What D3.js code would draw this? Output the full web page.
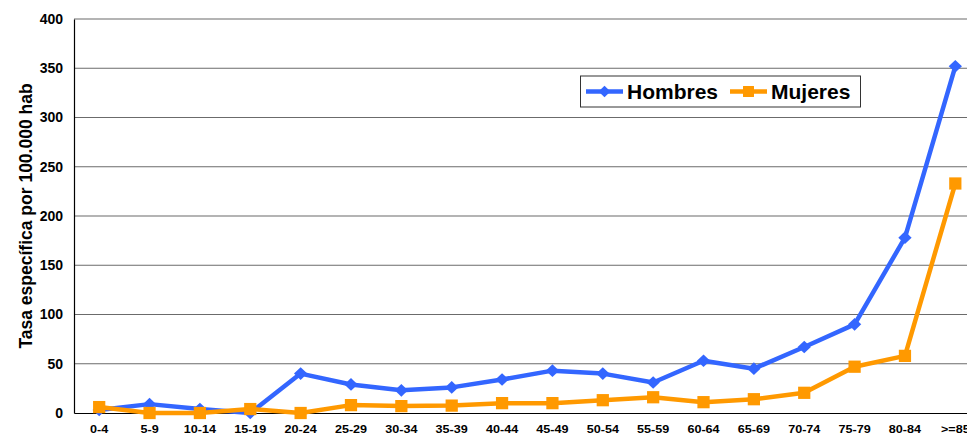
<!DOCTYPE html>
<html>
<head>
<meta charset="utf-8">
<script src="https://cdn.jsdelivr.net/npm/d3@7"></script>
<style>
  body { margin: 0; background: #fff; }
  svg { display: block; font-family: Arial, "Liberation Sans", sans-serif; }
</style>
</head>
<body>
<svg id="chart" width="967" height="438"></svg>
<script>
var ageGroups = ["0-4", "5-9", "10-14", "15-19", "20-24", "25-29", "30-34", "35-39", "40-44",
    "45-49", "50-54", "55-59", "60-64", "65-69", "70-74", "75-79", "80-84", ">=85"];
var hombres = [3, 9, 4, 0, 40, 29, 23, 26, 34, 43, 40, 31, 53, 45, 67, 90, 178, 352];
var mujeres = [6, 0, 0, 4, 0, 8, 7, 7.5, 10, 10, 13, 16, 11, 14, 20.5, 47, 58, 233];
var yTicks = [0, 50, 100, 150, 200, 250, 300, 350, 400];

var svg = d3.select("#chart");
var plotLeft = 74, plotTop = 19, plotBottom = 413, plotRight = 980.5;

var x = d3.scaleBand().domain(ageGroups).range([plotLeft, plotRight]);
var y = d3.scaleLinear().domain([0, 400]).range([plotBottom, plotTop]);

// grid lines
svg.append("g")
    .selectAll("line")
    .data(yTicks.slice(1))
    .enter().append("line")
    .attr("x1", plotLeft).attr("x2", plotRight)
    .attr("y1", function(d) { return y(d); })
    .attr("y2", function(d) { return y(d); })
    .attr("stroke", "#6b6b6b")
    .attr("stroke-width", 1.2);

// y axis
var yAxis = svg.append("g")
    .attr("transform", "translate(" + plotLeft + ",0)")
    .call(d3.axisLeft(y).tickValues(yTicks).tickSize(0).tickPadding(11));
yAxis.select(".domain").attr("stroke", "#000").attr("stroke-width", 1.2);
yAxis.selectAll("text").attr("font-size", 14).attr("font-weight", "bold").attr("fill", "#000");

// x axis (labels a bit wider than tall, like the original)
var xAxis = svg.append("g")
    .attr("transform", "translate(0," + plotBottom + ")")
    .call(d3.axisBottom(x).tickSize(0).tickPadding(13));
xAxis.select(".domain").attr("stroke", "#000").attr("stroke-width", 1.2);
xAxis.selectAll("text")
    .attr("font-size", 10.5)
    .attr("font-weight", "bold")
    .attr("fill", "#000")
    .attr("transform", "scale(1.2,1)");

svg.append("text")
    .attr("transform", "translate(26," + ((plotTop + plotBottom) / 2) + ") rotate(-90)")
    .attr("text-anchor", "middle")
    .attr("dy", "0.35em")
    .attr("font-size", 17.5)
    .attr("font-weight", "bold")
    .text("Tasa específica por 100.000 hab");

var cx = function(d, i) { return x(ageGroups[i]) + x.bandwidth() / 2; };

var diamond = {
    draw: function(context, size) {
        var r = Math.sqrt(size) / 2;
        context.moveTo(0, -r);
        context.lineTo(r * 1.05, 0);
        context.lineTo(0, r);
        context.lineTo(-r * 1.05, 0);
        context.closePath();
    }
};

var series = [
    { name: "Hombres", values: hombres, color: "#3366ff", symbol: diamond, size: 160 },
    { name: "Mujeres", values: mujeres, color: "#ff9900", symbol: d3.symbolSquare, size: 150 }
];

series.forEach(function(s) {
    var line = d3.line()
        .x(cx)
        .y(function(d) { return y(d); });
    svg.append("path")
        .datum(s.values)
        .attr("d", line)
        .attr("fill", "none")
        .attr("stroke", s.color)
        .attr("stroke-width", 4.5)
        .attr("stroke-linejoin", "round");
    svg.append("g")
        .selectAll("path")
        .data(s.values)
        .enter().append("path")
        .attr("transform", function(d, i) { return "translate(" + cx(d, i) + "," + y(d) + ")"; })
        .attr("d", d3.symbol().type(s.symbol).size(s.size))
        .attr("fill", s.color);
});

// legend
var legend = svg.append("g");
legend.append("rect")
    .attr("x", 580.5).attr("y", 76)
    .attr("width", 280).attr("height", 31)
    .attr("fill", "#fff")
    .attr("stroke", "#333")
    .attr("stroke-width", 1);

var legendPos = [{ lx: 586, tx: 627 }, { lx: 730, tx: 771 }];
series.forEach(function(s, i) {
    var p = legendPos[i];
    legend.append("line")
        .attr("x1", p.lx).attr("x2", p.lx + 37)
        .attr("y1", 91.5).attr("y2", 91.5)
        .attr("stroke", s.color)
        .attr("stroke-width", 4.5);
    legend.append("path")
        .attr("transform", "translate(" + (p.lx + 18.5) + ",91.5)")
        .attr("d", d3.symbol().type(s.symbol).size(s.size * 0.8))
        .attr("fill", s.color);
    legend.append("text")
        .attr("x", p.tx).attr("y", 99)
        .attr("font-size", 21)
        .attr("font-weight", "bold")
        .text(s.name);
});
</script>
</body>
</html>
